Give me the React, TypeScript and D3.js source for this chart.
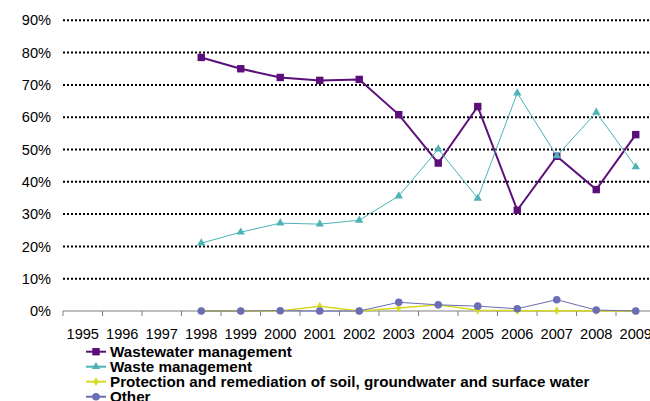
import React from "react";
import * as d3 from "d3";

const years = ["1995","1996","1997","1998","1999","2000","2001","2002","2003","2004","2005","2006","2007","2008","2009"];
const yTicks = [0, 10, 20, 30, 40, 50, 60, 70, 80, 90];

const wastewater = [null, null, null, 78.5, 75.0, 72.3, 71.4, 71.7, 60.8, 45.8, 63.3, 31.2, 47.9, 37.6, 54.6];
const waste = [null, null, null, 21.0, 24.4, 27.2, 26.9, 28.1, 35.6, 50.1, 34.9, 67.5, 48.0, 61.5, 44.6];
const protection = [null, null, null, 0, 0, 0, 1.5, 0, 0.9, 1.9, 0.2, 0.1, 0.1, 0, 0];
const other = [null, null, null, 0, 0, 0.1, 0, 0, 2.7, 1.9, 1.5, 0.7, 3.5, 0.3, 0];

const seriesNames = [
  "Wastewater management",
  "Waste management",
  "Protection and remediation of soil, groundwater and surface water",
  "Other",
];

type Series = { name: string; values: (number | null)[]; color: string; width: number; marker: string };

const series: Series[] = [
  { name: seriesNames[0], values: wastewater, color: "#5C0F7A", width: 2, marker: "square" },
  { name: seriesNames[1], values: waste, color: "#4DB3B6", width: 1, marker: "triangle" },
  { name: seriesNames[2], values: protection, color: "#D8D81E", width: 1.5, marker: "diamond" },
  { name: seriesNames[3], values: other, color: "#6B6DB5", width: 1, marker: "circle" },
];

const W = 650, H = 401;
const left = 63;
const step = 39.5;
const x = d3.scaleBand<string>().domain(years).range([left, left + step * years.length]).padding(0);
const y = d3.scaleLinear().domain([0, 90]).range([311, 20.3]);
const cx = (yr: string) => (x(yr) as number) + x.bandwidth() / 2;

function Marker({ type, px, py, color }: { type: string; px: number; py: number; color: string }) {
  if (type === "square") return <rect x={px - 3.7} y={py - 3.7} width={7.4} height={7.4} fill={color} />;
  if (type === "triangle") {
    const p = d3.symbol().type(d3.symbolTriangle).size(30)();
    return <path d={p as string} transform={`translate(${px},${py})`} fill={color} />;
  }
  if (type === "diamond") {
    const p = d3.symbol().type(d3.symbolDiamond).size(22)();
    return <path d={p as string} transform={`translate(${px},${py})`} fill={color} />;
  }
  return <circle cx={px} cy={py} r={3.8} fill={color} />;
}

export default function App() {
  return (
    <svg width={W} height={H} style={{ position: "absolute", left: 0, top: 0, background: "#fff" }}
      fontFamily="'Liberation Sans', Arial, sans-serif">
      {yTicks.filter(t => t > 0).map(t => (
        <line key={t} x1={left} x2={W} y1={y(t)} y2={y(t)} stroke="#000" strokeWidth={2} strokeDasharray="2,2" />
      ))}
      {yTicks.map(t => (
        <text key={t} x={51} y={y(t)} dy="0.35em" textAnchor="end" fontSize={14.6} fill="#000">{t}%</text>
      ))}
      <line x1={left} x2={W} y1={y(0)} y2={y(0)} stroke="#808080" strokeWidth={1.2} />
      {years.map(yr => (
        <line key={yr} x1={x(yr)} x2={x(yr)} y1={y(0)} y2={y(0) + 5} stroke="#808080" strokeWidth={1} />
      ))}
      {years.map(yr => (
        <text key={yr} x={cx(yr)} y={333.5} dy="0.35em" textAnchor="middle" fontSize={14.6} fill="#000">{yr}</text>
      ))}
      {series.map(s => {
        const line = d3.line<number | null>()
          .defined(v => v !== null)
          .x((_, i) => cx(years[i]))
          .y(v => y(v as number));
        return (
          <g key={s.name}>
            <path d={line(s.values) as string} fill="none" stroke={s.color} strokeWidth={s.width} />
            {s.values.map((v, i) => v === null ? null : (
              <Marker key={i} type={s.marker} px={cx(years[i])} py={y(v)} color={s.color} />
            ))}
          </g>
        );
      })}
      {series.map((s, i) => {
        const ly = 351.7 + i * 15;
        return (
          <g key={s.name}>
            <line x1={86} x2={106} y1={ly} y2={ly} stroke={s.color} strokeWidth={2} />
            <Marker type={s.marker} px={96} py={ly} color={s.color} />
            <text x={110} y={ly} dy="0.35em" fontSize={15.2} fontWeight="bold" fill="#000">{s.name}</text>
          </g>
        );
      })}
    </svg>
  );
}
